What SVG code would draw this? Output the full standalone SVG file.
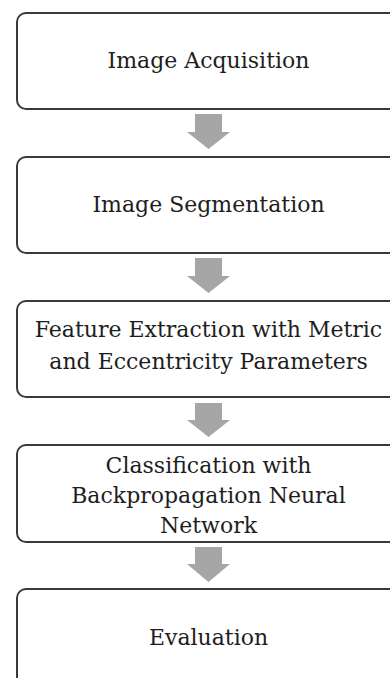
<svg xmlns="http://www.w3.org/2000/svg" width="390" height="678" viewBox="0 0 390 678">
<style>
.box{fill:#ffffff;stroke:#3a3a3a;stroke-width:2}
.lbl{font-family:"DejaVu Serif","Liberation Serif",serif;font-size:22px;fill:#1e1e1e;text-anchor:middle}
.arr{fill:#a6a6a6}
</style>
<rect width="390" height="678" fill="#ffffff"/>
<g id="connectors">
<polygon class="arr" points="195,114 222,114 222,132 230,132 208.5,149 187,132 195,132"/>
<polygon class="arr" points="195,258 222,258 222,276 230,276 208.5,293 187,276 195,276"/>
<polygon class="arr" points="195,403 222,403 222,420 230,420 208.5,437 187,420 195,420"/>
<polygon class="arr" points="195,547 222,547 222,564 230,564 208.5,582 187,564 195,564"/>
</g>
<g id="n1">
<rect class="box" x="17" y="13" width="390" height="96" rx="9"/>
<text class="lbl" x="208.5" y="68">Image Acquisition</text>
</g>
<g id="n2">
<rect class="box" x="17" y="157" width="390" height="96" rx="9"/>
<text class="lbl" x="208.5" y="212">Image Segmentation</text>
</g>
<g id="n3">
<rect class="box" x="17" y="301" width="390" height="96" rx="9"/>
<text class="lbl" x="208.5" y="337">Feature Extraction with Metric</text>
<text class="lbl" x="208.5" y="369">and Eccentricity Parameters</text>
</g>
<g id="n4">
<rect class="box" x="17" y="445" width="390" height="97" rx="9"/>
<text class="lbl" x="208.5" y="473">Classification with</text>
<text class="lbl" x="208.5" y="503">Backpropagation Neural</text>
<text class="lbl" x="208.5" y="533">Network</text>
</g>
<g id="n5">
<rect class="box" x="17" y="589" width="390" height="100" rx="9"/>
<text class="lbl" x="208.5" y="645">Evaluation</text>
</g>
</svg>
